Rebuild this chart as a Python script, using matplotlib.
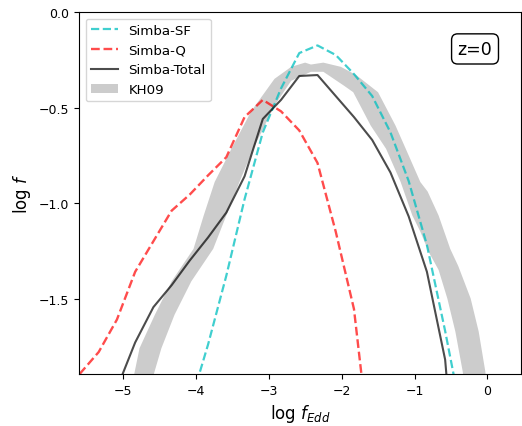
"""Eddington ratio distribution: Simba SF / Q / total vs KH09 band."""
import matplotlib
matplotlib.use("Agg")
import matplotlib.pyplot as plt
import numpy as np

# ---- data ----
total_x = np.array([-5.08, -4.83, -4.58, -4.33, -4.08, -3.83, -3.58, -3.33, -3.08, -2.83,
                    -2.58, -2.33, -2.08, -1.83, -1.58, -1.33, -1.08, -0.83, -0.58, -0.33])
total_y = np.array([-1.97, -1.73, -1.545, -1.43, -1.30, -1.18, -1.05, -0.86, -0.56, -0.46,
                    -0.335, -0.33, -0.44, -0.55, -0.67, -0.84, -1.07, -1.36, -1.82, -2.95])

sf_x = np.array([-4.08, -3.83, -3.58, -3.33, -3.08, -2.83, -2.58, -2.33,
                 -2.08, -1.83, -1.58, -1.33, -1.08, -0.83, -0.58, -0.33])
sf_y = np.array([-2.06, -1.74, -1.38, -0.98, -0.63, -0.40, -0.215, -0.175,
                 -0.225, -0.325, -0.44, -0.63, -0.885, -1.22, -1.67, -2.16])

q_x = np.array([-5.83, -5.58, -5.33, -5.08, -4.83, -4.58, -4.33, -4.08, -3.83,
                -3.58, -3.33, -3.08, -2.83, -2.58, -2.33, -2.08, -1.83, -1.58])
q_y = np.array([-2.07, -1.89, -1.78, -1.61, -1.36, -1.20, -1.04, -0.955, -0.855,
                -0.76, -0.55, -0.46, -0.52, -0.62, -0.79, -1.15, -1.555, -2.39])

# KH09 band: upper and lower edges (both left to right)
kh_up_x = np.array([-4.90, -4.84, -4.77, -4.56, -4.33, -4.03, -3.89, -3.74, -3.51, -3.24,
                    -2.92, -2.69, -2.50, -2.42, -2.25, -2.01, -1.80, -1.50, -1.26, -1.12,
                    -0.92, -0.82, -0.67, -0.51, -0.40, -0.23, -0.12, -0.03, 0.00])
kh_up_y = np.array([-2.00, -1.89, -1.76, -1.585, -1.41, -1.24, -1.065, -0.89, -0.716, -0.52,
                    -0.35, -0.287, -0.265, -0.275, -0.265, -0.287, -0.33, -0.42, -0.595, -0.716,
                    -0.89, -0.94, -1.065, -1.24, -1.33, -1.50, -1.673, -1.88, -2.00])
kh_lo_x = np.array([-4.62, -4.57, -4.47, -4.29, -4.06, -3.76, -3.58, -3.40, -3.21, -2.92,
                    -2.69, -2.42, -2.25, -1.97, -1.84, -1.60, -1.39, -1.19, -1.03, -0.92,
                    -0.80, -0.67, -0.55, -0.44, -0.34, -0.30])
kh_lo_y = np.array([-2.00, -1.89, -1.76, -1.585, -1.41, -1.24, -1.065, -0.89, -0.716, -0.49,
                    -0.36, -0.313, -0.313, -0.385, -0.42, -0.595, -0.716, -0.89, -1.065, -1.15,
                    -1.26, -1.35, -1.50, -1.673, -1.88, -2.00])

redshift_label = "z=0"


def main():
    fig = plt.figure(figsize=(5.22, 4.27), dpi=100)
    ax = fig.add_axes([79 / 522, 52 / 427, 442 / 522, 362 / 427])

    band_x = np.concatenate([kh_up_x, kh_lo_x[::-1]])
    band_y = np.concatenate([kh_up_y, kh_lo_y[::-1]])
    ax.fill(band_x, band_y, color="k", alpha=0.2, lw=0, label="KH09")

    ax.plot(sf_x, sf_y, "--", color="c", alpha=0.75, lw=1.6, label="Simba-SF")
    ax.plot(q_x, q_y, "--", color="r", alpha=0.7, lw=1.7, label="Simba-Q")
    ax.plot(total_x, total_y, "-", color="k", alpha=0.7, lw=1.5, label="Simba-Total")

    ax.set_xlim(-5.6, 0.46)
    ax.set_ylim(-1.895, 0.0)
    ax.set_xticks([-5, -4, -3, -2, -1, 0])
    ax.set_yticks([0.0, -0.5, -1.0, -1.5])
    ax.tick_params(labelsize=9)
    ax.set_xlabel(r"log $f_{Edd}$", fontsize=12)
    ax.set_ylabel(r"log $f$", fontsize=12)

    handles, labels = ax.get_legend_handles_labels()
    order = [1, 2, 3, 0]
    ax.legend([handles[i] for i in order], [labels[i] for i in order],
              loc="upper left", fontsize=9.6)

    ax.text(0.896, 0.898, redshift_label, transform=ax.transAxes, fontsize=12.5,
            ha="center", va="center",
            bbox=dict(boxstyle="round,pad=0.35", fc="white", ec="k"))

    fig.savefig("out.png", dpi=100)
    plt.close(fig)


if __name__ == "__main__":
    main()
